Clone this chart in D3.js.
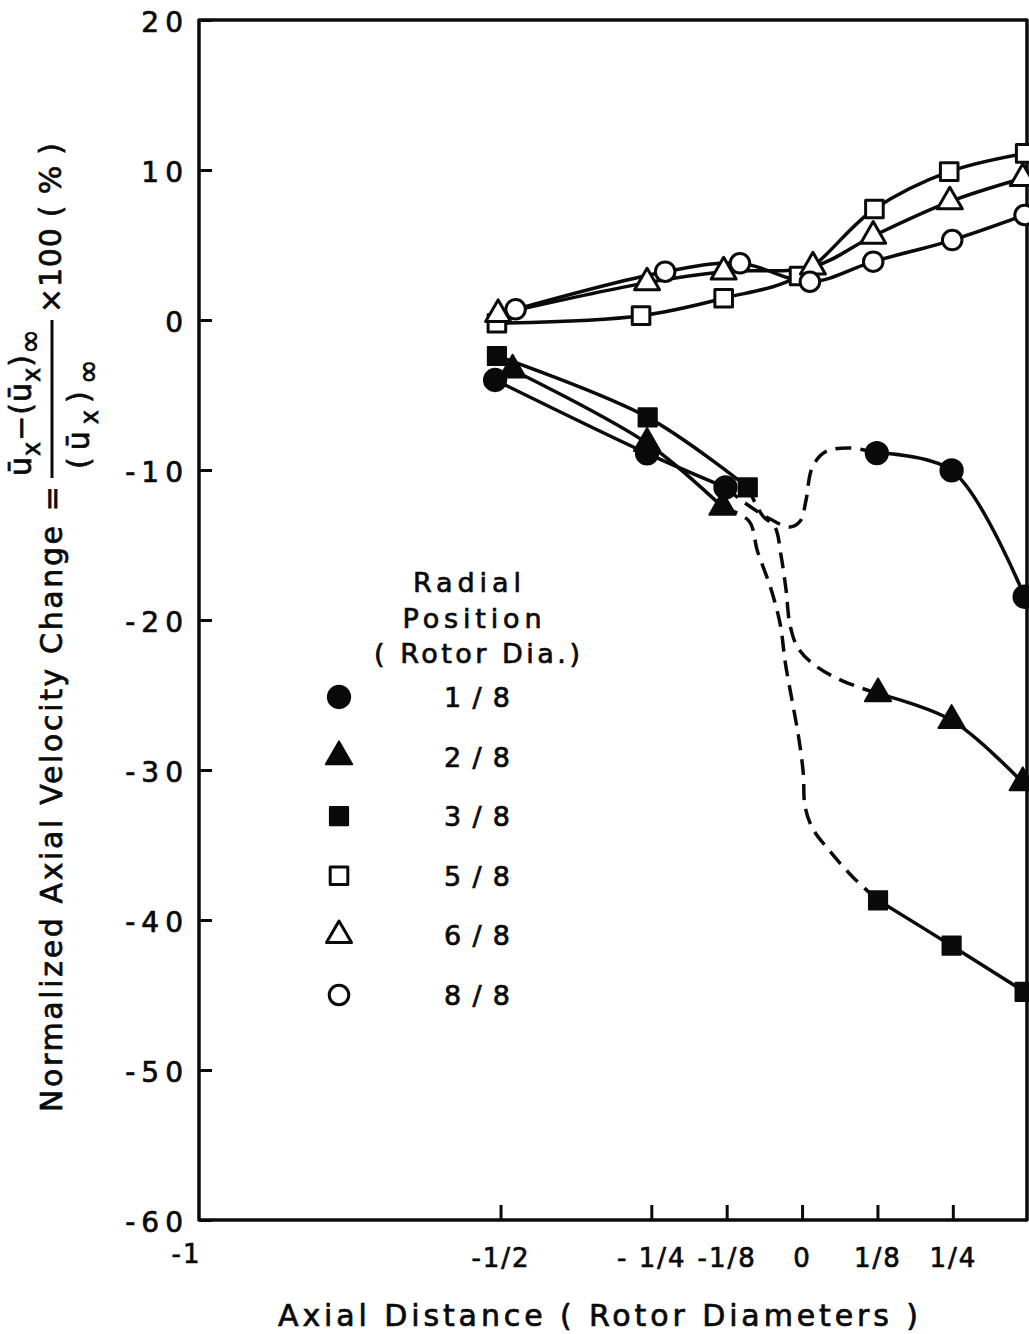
<!DOCTYPE html>
<html>
<head>
<meta charset="utf-8">
<script src="https://cdn.jsdelivr.net/npm/d3@7"></script>
<style>
  html, body { margin: 0; padding: 0; background: #fff; }
  svg { display: block; }
  text { font-family: "DejaVu Sans", sans-serif; fill: #0a0a0a; stroke: #0a0a0a; stroke-width: 0.7px; }
</style>
</head>
<body>
<svg id="chart" width="1029" height="1334"></svg>
<script>
// Axial distance ticks (rotor diameters) and their printed labels
const xTickValues = [-1, -0.5, -0.25, -0.125, 0, 0.125, 0.25];
const xTickLabels = ["-1", "-1/2", "- 1/4", "-1/8", "0", "1/8", "1/4"];
// Velocity change ticks (%)
const yTickValues = [20, 10, 0, -10, -20, -30, -40, -50, -60];
const yTickLabels = ["20", "10", "0", "-10", "-20", "-30", "-40", "-50", "-60"];
// Radial positions (rotor diameters)
const radialPositions = ["1/8", "2/8", "3/8", "5/8", "6/8", "8/8"];

// Measured points: [axial distance, % change]
const upstream18   = [[-0.509, -4.0], [-0.257, -8.89], [-0.127, -11.16]];
const downstream18 = [[0.124, -8.87], [0.248, -10.03], [0.369, -18.45]];
const upstream28   = [[-0.480, -3.33], [-0.257, -8.22], [-0.132, -12.47]];
const downstream28 = [[0.126, -24.91], [0.248, -26.69], [0.366, -30.84]];
const upstream38   = [[-0.506, -2.4], [-0.256, -6.49], [-0.090, -11.16]];
const downstream38 = [[0.126, -38.69], [0.248, -41.71], [0.369, -44.79]];
const points58 = [[-0.506, -0.22], [-0.267, 0.29], [-0.130, 1.45], [-0.005, 2.93], [0.120, 7.40], [0.244, 9.89], [0.370, 11.11]];
const points68 = [[-0.504, 0.38], [-0.257, 2.49], [-0.130, 3.22], [0.018, 3.55], [0.118, 5.60], [0.245, 7.89], [0.366, 9.45]];
const points88 = [[-0.475, 0.71], [-0.227, 3.22], [-0.103, 3.78], [0.013, 2.55], [0.118, 3.89], [0.249, 5.33], [0.369, 7.00]];

// Faired (dashed) curves across the rotor plane
const fair18 = [[-0.127, -11.16], [-0.0945, -12.2], [-0.053, -13.27], [-0.020, -13.8], [-0.003, -13.4],
                [0.0066, -12.0], [0.0166, -9.87], [0.038, -8.8], [0.080, -8.53], [0.124, -8.87]];
const fairOuter = [[-0.132, -12.47], [-0.088, -13.4], [-0.074, -15.4], [-0.052, -17.87], [-0.036, -20.33],
                   [-0.028, -22.8], [-0.017, -25.27], [-0.006, -27.73], [0.002, -30.2], [0.005, -32.45],
                   [0.018, -33.93], [0.046, -35.4], [0.084, -37.13], [0.126, -38.69]];
const fairInner = [[-0.090, -11.16], [-0.065, -13.07], [-0.045, -13.8], [-0.035, -15.67], [-0.0265, -18.0],
                   [-0.020, -20.33], [-0.0066, -21.87], [0.023, -23.07], [0.068, -24.07], [0.126, -24.91]];

const ink = "#0a0a0a";
const svg = d3.select("#chart");

const x = d3.scaleLinear().domain([-1, 0.373]).range([199, 1027]);
const y = d3.scaleLinear().domain([-60, 20]).range([1220, 20]);

// marker styles per radial position
const styles = {
  "1/8": { type: d3.symbolCircle,   size: 390, filled: true },
  "2/8": { type: d3.symbolTriangle, size: 300, filled: true },
  "3/8": { type: d3.symbolSquare,   size: 330, filled: true },
  "5/8": { type: d3.symbolSquare,   size: 310, filled: false },
  "6/8": { type: d3.symbolTriangle, size: 270, filled: false },
  "8/8": { type: d3.symbolCircle,   size: 300, filled: false }
};
const series = [
  { key: "1/8", segments: [upstream18, downstream18] },
  { key: "2/8", segments: [upstream28, downstream28] },
  { key: "3/8", segments: [upstream38, downstream38] },
  { key: "5/8", segments: [points58] },
  { key: "6/8", segments: [points68] },
  { key: "8/8", segments: [points88] }
];

const line = d3.line()
  .x(d => x(d[0]))
  .y(d => y(d[1]))
  .curve(d3.curveCatmullRom.alpha(0.5));

// axes: inward ticks, box drawn separately
const yAxis = d3.axisLeft(y)
  .tickValues(yTickValues)
  .tickFormat((d, i) => yTickLabels[i])
  .tickSize(-13)
  .tickPadding(10);
const yg = svg.append("g").attr("transform", `translate(${x(-1)},0)`).call(yAxis);
yg.select(".domain").remove();
yg.selectAll(".tick line").attr("stroke", ink).attr("stroke-width", 3);
yg.selectAll(".tick text")
  .attr("fill", ink)
  .attr("dy", "0.42em")
  .style("font-size", "28px")
  .style("letter-spacing", "6px")
  .style("font-family", "'DejaVu Sans', sans-serif");

const xAxis = d3.axisBottom(x)
  .tickValues(xTickValues)
  .tickFormat((d, i) => xTickLabels[i])
  .tickSize(-15)
  .tickPadding(28);
const xg = svg.append("g").attr("transform", `translate(0,${y(-60)})`).call(xAxis);
xg.select(".domain").remove();
xg.selectAll(".tick line").attr("stroke", ink).attr("stroke-width", 3);
xg.selectAll(".tick text")
  .attr("fill", ink)
  .attr("dy", "0")
  .attr("y", 47)
  .style("font-size", "26px")
  .style("letter-spacing", "2px")
  .style("font-family", "'DejaVu Sans', sans-serif");
xg.selectAll(".tick").filter(d => d === -1).select("text")
  .attr("text-anchor", "end").attr("x", 2).attr("y", 43);
xg.selectAll(".tick").filter(d => d === -1).select("line").remove();

// frame
svg.append("rect")
  .attr("x", x(-1)).attr("y", y(20))
  .attr("width", x(0.373) - x(-1)).attr("height", y(-60) - y(20))
  .attr("fill", "none").attr("stroke", ink).attr("stroke-width", 3.5)
  .attr("stroke-linejoin", "round");

// data curves
const curves = svg.append("g").attr("fill", "none").attr("stroke", ink)
  .attr("stroke-width", 3.5).attr("stroke-linecap", "round");
series.forEach(s => s.segments.forEach(seg => curves.append("path").attr("d", line(seg))));
[fair18, fairOuter, fairInner].forEach(f =>
  curves.append("path").attr("d", line(f))
    .attr("stroke-dasharray", "16 9").attr("stroke-linecap", "butt"));

// markers
function drawMarker(g, key, px, py) {
  const st = styles[key];
  g.append("path")
    .attr("d", d3.symbol().type(st.type).size(st.size)())
    .attr("transform", `translate(${px},${py})`)
    .attr("fill", st.filled ? ink : "#fff")
    .attr("stroke", ink)
    .attr("stroke-width", st.filled ? 2 : 3)
    .attr("stroke-linejoin", "round");
}
const marks = svg.append("g");
series.forEach(s => s.segments.forEach(seg =>
  seg.forEach(p => drawMarker(marks, s.key, x(p[0]), y(p[1])))));

// legend
const legend = svg.append("g");
const legendHead = [
  { t: "Radial", cx: 467, by: 592, w: 108 },
  { t: "Position", cx: 472, by: 628, w: 139 },
  { t: "( Rotor Dia.)", cx: 477, by: 663, w: 206 }
];
legendHead.forEach(h => legend.append("text")
  .attr("x", h.cx).attr("y", h.by).attr("text-anchor", "middle")
  .attr("textLength", h.w).attr("lengthAdjust", "spacing")
  .style("font-size", "27px").text(h.t));
const ly = d3.scalePoint().domain(radialPositions).range([697, 995]);
radialPositions.forEach(k => {
  drawMarker(legend, k, 339, ly(k));
  legend.append("text")
    .attr("x", 477).attr("y", ly(k) + 10).attr("text-anchor", "middle")
    .attr("textLength", 66).attr("lengthAdjust", "spacing")
    .style("font-size", "27px").text(k);
});

// x title
svg.append("text")
  .attr("x", 598).attr("y", 1326).attr("text-anchor", "middle")
  .attr("textLength", 640).attr("lengthAdjust", "spacing")
  .style("font-size", "30px")
  .text("Axial Distance ( Rotor Diameters )");

// y title with the normalizing fraction, reading bottom to top
const yt = svg.append("g").attr("transform", "translate(0,1112) rotate(-90)");
yt.append("text").attr("x", 0).attr("y", 62)
  .attr("textLength", 626).attr("lengthAdjust", "spacing")
  .style("font-size", "30px")
  .text("Normalized Axial Velocity Change =");
yt.append("line").attr("x1", 634).attr("x2", 792).attr("y1", 52).attr("y2", 52)
  .attr("stroke", ink).attr("stroke-width", 3);

function fracText(xPos, yPos, parts, ls) {
  const t = yt.append("text").attr("x", xPos).attr("y", yPos)
    .style("font-size", "30px").style("letter-spacing", ls + "px");
  let low = false;
  parts.forEach(p => {
    const sub = p.sub === true;
    const ts = t.append("tspan").text(p.t);
    if (sub && !low) { ts.attr("dy", 9); low = true; }
    else if (!sub && low) { ts.attr("dy", -9); low = false; }
    if (sub) ts.style("font-size", p.t === "∞" ? "30px" : "24px");
  });
  return t;
}
fracText(636, 31, [
  { t: "ū" }, { t: "x", sub: true }, { t: "−(ū" }, { t: "x", sub: true }, { t: ")" }, { t: "∞", sub: true }
], 1);
fracText(643, 89, [
  { t: "(ū" }, { t: "x", sub: true }, { t: ")" }, { t: "∞", sub: true }
], 7);
yt.append("text").attr("x", 799).attr("y", 61)
  .attr("textLength", 170).attr("lengthAdjust", "spacing")
  .style("font-size", "30px")
  .text("×100 ( % )");
</script>
</body>
</html>
